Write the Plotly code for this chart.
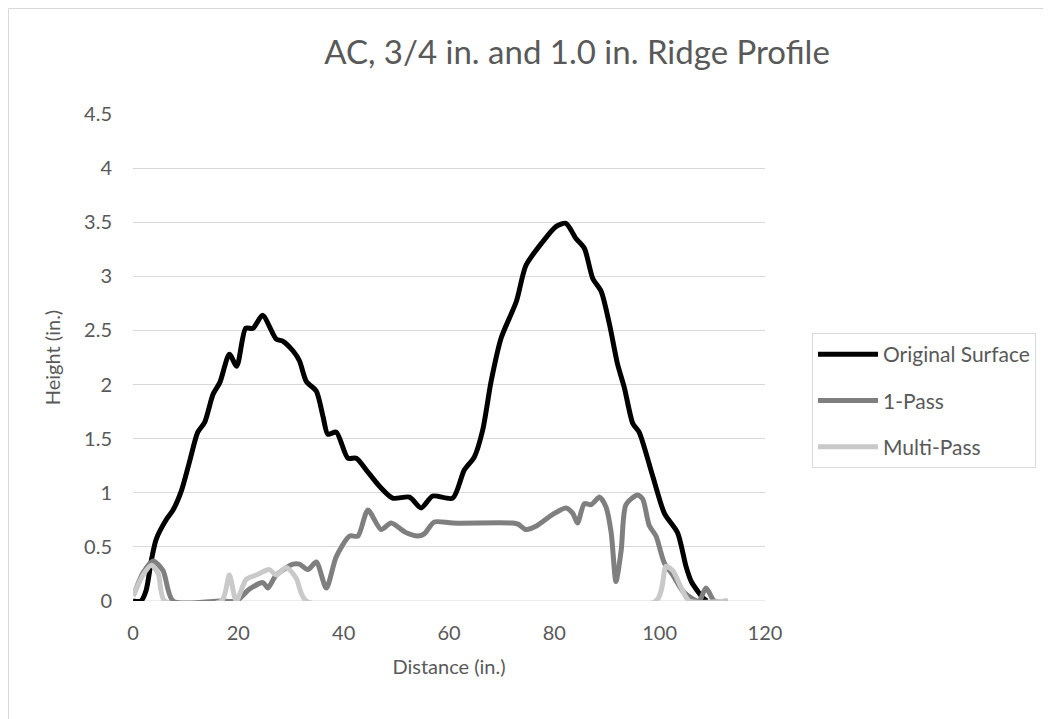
import plotly.graph_objects as go

# ---- data ----
orig_x = [0, 1.5, 2.5, 3.5, 4.4, 6.3, 7.6, 9.2, 10.8, 12.3, 13.6, 15.2, 16.5, 18.3, 19.7, 21.4, 22.8, 24.6,
          27.2, 28.5, 30.4, 31.6, 32.9, 34.8, 36.1, 37.0, 38.6, 40.8, 42.4, 44.3, 46.8, 49.3, 52.5, 54.7,
          56.9, 60.7, 62.9, 64.8, 66.4, 68.0, 69.9, 72.8, 74.6, 77.8, 80.3, 82.2, 84.1, 85.7, 87.3, 88.9,
          90.5, 92.0, 93.3, 94.9, 96.1, 98.7, 100.9, 103.4, 105.0, 106.0, 108.2, 109.0]
orig_y = [0, 0, 0.1, 0.38, 0.57, 0.75, 0.84, 1.02, 1.30, 1.56, 1.65, 1.91, 2.02, 2.28, 2.17, 2.52, 2.52, 2.64,
          2.42, 2.40, 2.31, 2.22, 2.03, 1.94, 1.70, 1.54, 1.56, 1.32, 1.32, 1.21, 1.06, 0.95, 0.96, 0.86,
          0.97, 0.95, 1.21, 1.33, 1.58, 2.03, 2.43, 2.77, 3.10, 3.32, 3.46, 3.49, 3.35, 3.26, 2.98, 2.86,
          2.55, 2.19, 1.97, 1.64, 1.56, 1.15, 0.81, 0.63, 0.32, 0.18, 0.03, 0]

pass1_x = [0, 0.3, 1.9, 3.8, 5.7, 7.6, 16.5, 19.6, 22.1, 24.7, 25.6, 27.2, 30.4, 31.6, 33.2, 34.8, 36.7,
           38.6, 41.1, 42.7, 44.6, 47.1, 49.0, 51.9, 54.1, 55.3, 57.2, 60.7, 72.1, 73.1, 74.6, 76.5, 79.7,
           82.2, 83.5, 84.4, 85.7, 87.0, 88.6, 89.8, 90.8, 91.7, 92.7, 93.6, 95.8, 96.8, 98.0, 99.3, 100.9,
           102.5, 104.4, 106.3, 107.5, 108.8, 110.4, 112.9]
pass1_y = [0.05, 0.08, 0.26, 0.37, 0.28, 0, 0, 0, 0.11, 0.17, 0.12, 0.24, 0.34, 0.34, 0.29, 0.36, 0.12,
           0.41, 0.60, 0.60, 0.84, 0.66, 0.72, 0.63, 0.60, 0.62, 0.73, 0.72, 0.72, 0.71, 0.66, 0.69, 0.80,
           0.86, 0.81, 0.72, 0.90, 0.89, 0.96, 0.87, 0.63, 0.18, 0.47, 0.89, 0.98, 0.94, 0.70, 0.60, 0.35,
           0.24, 0.09, 0.02, 0, 0.12, 0, 0]

multi_x = [0, 0.3, 1.9, 3.5, 4.8, 6.0, 16.8, 18.3, 19.6, 21.5, 23.4, 25.9, 27.2, 29.1, 31.0, 32.9,
           99.3, 101.2, 102.5, 104.4, 105.6, 112.9]
multi_y = [0.05, 0.08, 0.24, 0.33, 0.25, 0, 0, 0.24, 0, 0.20, 0.24, 0.29, 0.24, 0.31, 0.21, 0,
           0, 0.32, 0.28, 0.09, 0, 0]

series_names = ["Original Surface", "1-Pass", "Multi-Pass"]
x_ticks = [0, 20, 40, 60, 80, 100, 120]
y_ticks = [0, 0.5, 1, 1.5, 2, 2.5, 3, 3.5, 4, 4.5]

FONT = "Lato"
TXT = "#595959"
GRID = "#d9d9d9"

fig = go.Figure()
for name, xs, ys, col in [
    (series_names[0], orig_x, orig_y, "#000000"),
    (series_names[1], pass1_x, pass1_y, "#7f7f7f"),
    (series_names[2], multi_x, multi_y, "#c9c9c9"),
]:
    fig.add_trace(go.Scatter(
        x=xs, y=ys, name=name, mode="lines", legendgroup=name,
        line=dict(color=col, width=5, shape="spline", smoothing=0.7),
    ))

# page is rendered with an 8px body margin: layout px = screen px - 8
W, H = 1051, 719
L, T = 125, 106
pw, ph = 632, 487
R, B = W - L - pw, H - T - ph

def px2paper_x(px):
    return (px - L) / pw

def px2paper_y(py):
    return (T + ph - py) / ph

# outer chart border (top and left edges visible in the reference)
fig.add_shape(type="line", xref="paper", yref="paper",
              x0=px2paper_x(0.5), x1=px2paper_x(W), y0=px2paper_y(0.5), y1=px2paper_y(0.5),
              line=dict(color=GRID, width=1))
fig.add_shape(type="line", xref="paper", yref="paper",
              x0=px2paper_x(0.5), x1=px2paper_x(0.5), y0=px2paper_y(0.5), y1=px2paper_y(H),
              line=dict(color=GRID, width=1))

fig.update_layout(
    width=W, height=H,
    margin=dict(l=L, r=R, t=T, b=B),
    paper_bgcolor="white", plot_bgcolor="white",
    font=dict(family=FONT, color=TXT, size=17),
    title=dict(text="AC, 3/4 in. and 1.0 in. Ridge Profile", x=569 / W, xanchor="center",
               y=1 - 44 / H, yanchor="middle", font=dict(size=33, color=TXT, family=FONT)),
    xaxis=dict(range=[0, 120], tickvals=x_ticks, showgrid=False, zeroline=False,
               showline=False, ticks="", ticklabelstandoff=18,
               tickfont=dict(size=20, color=TXT),
               title=dict(text="Distance (in.)", font=dict(size=20, color=TXT), standoff=16)),
    yaxis=dict(range=[0, 4.5], tickvals=y_ticks, showgrid=True, gridcolor=GRID, gridwidth=1,
               zeroline=False, showline=False, ticks="", ticklabelstandoff=20,
               tickfont=dict(size=20, color=TXT),
               title=dict(text="Height (in.)", font=dict(size=20, color=TXT), standoff=18)),
    legend=dict(x=px2paper_x(804), y=px2paper_y(325), xanchor="left", yanchor="top",
                bordercolor=GRID, borderwidth=1, bgcolor="white",
                font=dict(size=21, color=TXT, family=FONT),
                traceorder="grouped", tracegroupgap=16, itemwidth=60),
    showlegend=True,
)
# 0 gridline as the x-axis line
fig.add_hline(y=0, line=dict(color=GRID, width=1), layer="below")

fig.write_html("out.html")
